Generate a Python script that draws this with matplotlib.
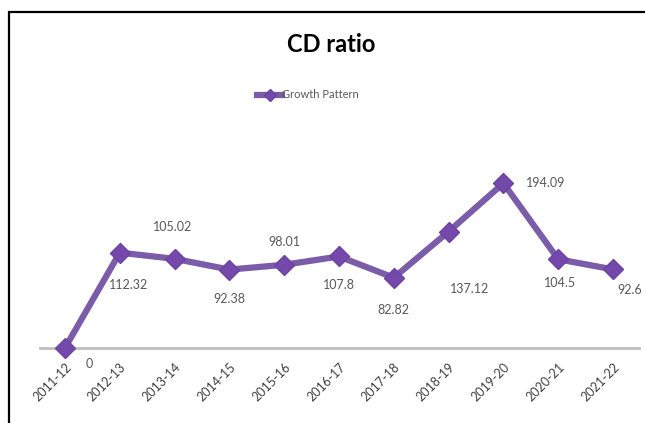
import matplotlib.pyplot as plt
from matplotlib.patches import Rectangle

years = ["2011-12", "2012-13", "2013-14", "2014-15", "2015-16", "2016-17",
         "2017-18", "2018-19", "2019-20", "2020-21", "2021-22"]
cd_ratio = [0, 112.32, 105.02, 92.38, 98.01, 107.8, 82.82, 137.12, 194.09, 104.5, 92.6]
# label offsets from each point, in pixels
label_offsets = [(24, -16), (9, -32), (-2, 32), (0, -29), (0, 23), (0, -29),
                 (0, -32), (21, -57), (42, 0), (2, -24), (17, -21)]

W, H = 645, 423
dpi = 100
fig = plt.figure(figsize=(W / dpi, H / dpi), dpi=dpi)
plt.rcParams['font.family'] = ['Lato', 'DejaVu Sans']

# outer frame, only top and left edges fall inside the image
fig.patches.append(Rectangle((9 / W, -0.2), 1.2, 1.2 - 12 / H,
                             transform=fig.transFigure, fill=False,
                             edgecolor='black', linewidth=1.6))

ax = fig.add_axes([40 / W, (H - 348) / H, 599 / W, 208 / H])
x = list(range(len(years)))
line, = ax.plot(x, cd_ratio, color='#7b5ca8', linewidth=4.5, marker='D',
                markersize=10.5, markerfacecolor='#7449ab', markeredgecolor='#6a44a0',
                clip_on=False, zorder=3, label='Growth Pattern')

for xi, yi, off in zip(x, cd_ratio, label_offsets):
    ax.annotate(f"{yi:g}", (xi, yi), xytext=off, textcoords='offset pixels',
                ha='center', va='center', fontsize=9, color='#595959')

ax.set_xlim(-0.456, 10.474)
ax.set_ylim(0, 245)
ax.set_xticks(x)
ax.set_xticklabels(years, rotation=45, ha='right', va='top',
                   rotation_mode='anchor', fontsize=9, color='#404040')
ax.tick_params(axis='x', length=0, pad=9)
ax.set_yticks([])
for s in ['top', 'right', 'left']:
    ax.spines[s].set_visible(False)
ax.spines['bottom'].set_color('#bfbfbf')
ax.spines['bottom'].set_linewidth(2)

fig.text(331 / W, 1 - 45 / H, "CD ratio", ha='center', va='center',
         fontsize=17, fontweight='bold', color='black')
fig.legend(handles=[line], loc='center', bbox_to_anchor=(308 / W, 1 - 95 / H),
           frameon=False, fontsize=8, labelcolor='#595959', handlelength=2.2,
           handletextpad=0.0, markerscale=0.6)

fig.savefig("out.png", dpi=dpi)
